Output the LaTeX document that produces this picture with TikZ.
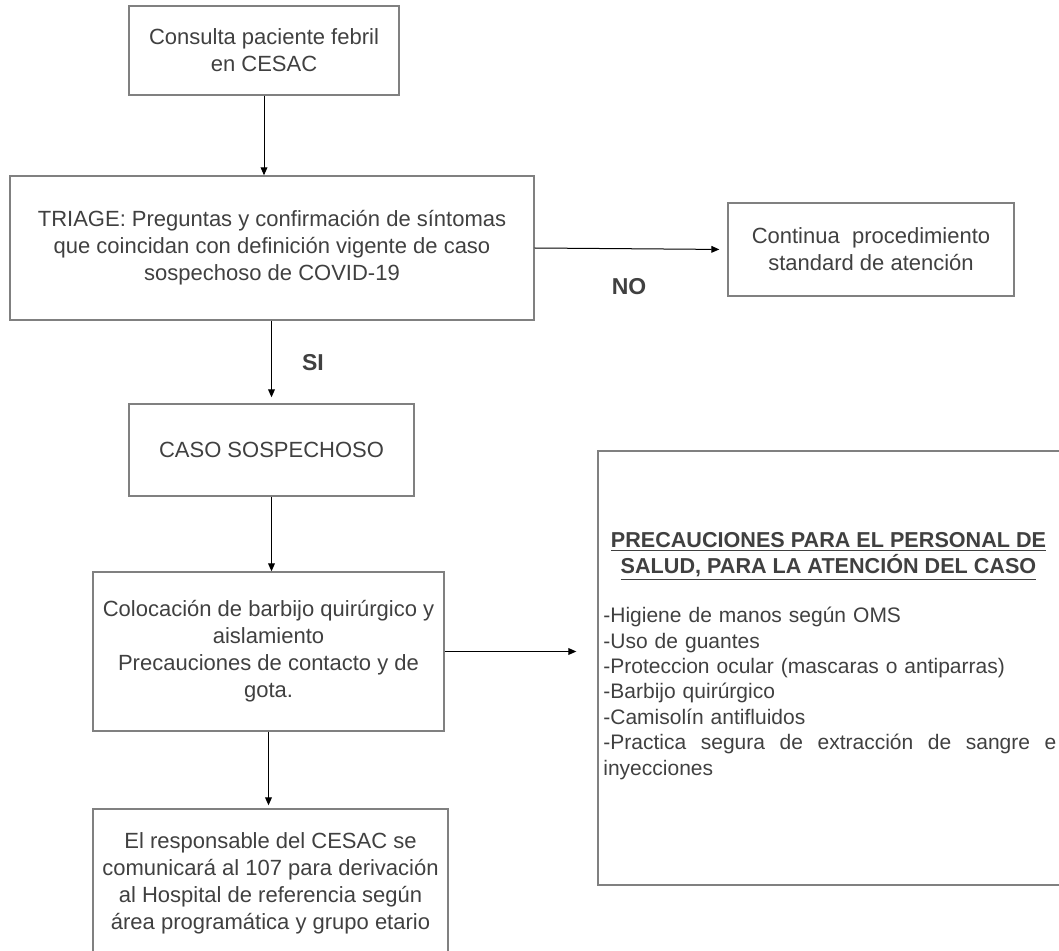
\documentclass[tikz,border=0pt]{standalone}
\usepackage{fontspec}
\setmainfont{Liberation Sans}
\usetikzlibrary{arrows.meta}

\definecolor{textgray}{HTML}{404040}
\definecolor{boxgray}{HTML}{808080}

\begin{document}
\begin{tikzpicture}[x=1pt, y=-1pt,
    caja/.style={draw=boxgray, line width=0.7pt, text=textgray, align=center,
      inner sep=0pt, font=\fontsize{11}{13.5}\selectfont},
    flecha/.style={-{Triangle[length=4pt, width=3.4pt]}, line width=0.5pt, black},
    etiqueta/.style={text=textgray, inner sep=0pt, font=\fontsize{11.5}{13}\selectfont\bfseries}]

    % Fix the page size
    \useasboundingbox (0,0) rectangle (529.5,475.5);

    % Draw the flow boxes
    \node[caja, minimum width=135pt, minimum height=44.5pt] (consulta) at (132,25.25)
      {Consulta paciente febril\\en CESAC};
    \node[caja, minimum width=262pt, minimum height=72pt] (triage) at (136,124)
      {TRIAGE: Preguntas y confirmación de síntomas\\
       que coincidan con definición vigente de caso\\
       sospechoso de COVID-19};
    \node[caja, minimum width=143pt, minimum height=46.5pt] (continua) at (435.5,124.75)
      {Continua \ procedimiento\\standard de atención};
    \node[caja, minimum width=142.5pt, minimum height=46pt] (caso) at (135.75,225)
      {CASO SOSPECHOSO};
    \node[caja, minimum width=175.5pt, minimum height=79.5pt] (coloc) at (134.25,325.75)
      {Colocación de barbijo quirúrgico y\\aislamiento\\
       Precauciones de contacto y de\\gota.};
    \node[caja, minimum width=177.5pt, minimum height=74pt] (resp) at (135.25,441.5)
      {El responsable del CESAC se\\comunicará al 107 para derivación\\
       al Hospital de referencia según\\área programática y grupo etario};

    % Precautions box (cut by the page edge)
    \node[caja, minimum width=232pt, minimum height=217pt] (prec) at (415,334) {};
    \node[anchor=north, align=center, inner sep=0pt, text=textgray,
      font=\fontsize{10.8}{13}\selectfont\bfseries] (precTitulo) at (414.25,265.8)
      {\underline{PRECAUCIONES PARA EL PERSONAL DE}\\
       \underline{SALUD, PARA LA ATENCIÓN DEL CASO}};
    \node[anchor=north west, align=left, text width=226.5pt, inner sep=0pt, text=textgray,
      font=\fontsize{10.5}{12.7}\selectfont] (precLista) at (301.5,303.4)
      {-Higiene de manos según OMS\\
       -Uso de guantes\\
       -Proteccion ocular (mascaras o antiparras)\\
       -Barbijo quirúrgico\\
       -Camisolín antifluidos\\
       \makebox[226.5pt][l]{-Practica\hfill segura\hfill de\hfill extracción\hfill de\hfill sangre\hfill e}\\
       inyecciones};

    % Draw the connectors
    \draw[flecha] (consulta.south) -- (consulta.south |- triage.north);
    \draw[flecha, shorten >=4pt] (triage.east) -- (continua.west);
    \draw[flecha, shorten >=3pt] (caso.north |- triage.south) -- (caso.north);
    \draw[flecha] (caso.south) -- (caso.south |- coloc.north);
    \draw[flecha, shorten >=10.5pt] (coloc.east) -- (coloc.east -| prec.west);
    \draw[flecha, shorten >=1.5pt] (coloc.south) -- (coloc.south |- resp.north);

    % Branch labels
    \node[etiqueta] (no) at (314.5,143.5) {NO};
    \node[etiqueta] (si) at (156.5,181.5) {SI};
\end{tikzpicture}
\end{document}
